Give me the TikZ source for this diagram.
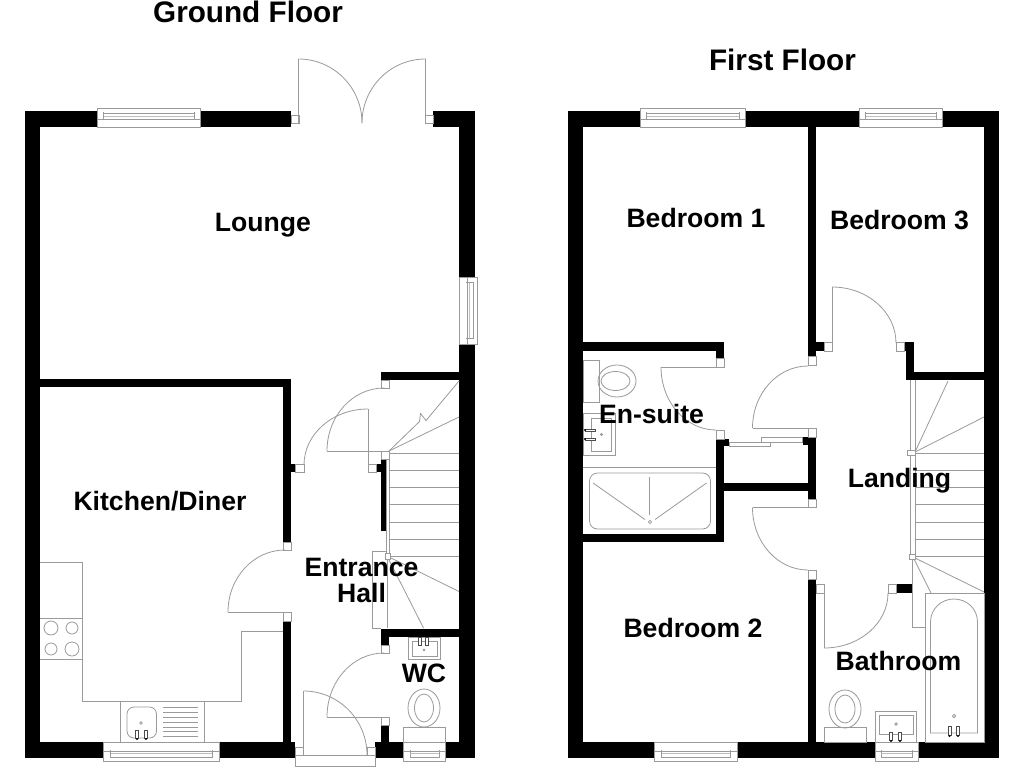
\documentclass[tikz,border=0pt]{standalone}
\usepackage{fontspec}
\setmainfont{Liberation Sans}
\usetikzlibrary{calc}
\definecolor{linegrey}{HTML}{9A9A9A}
\definecolor{lightgrey}{HTML}{BEBEBE}
\tikzset{
  fine/.style={draw=linegrey,line width=0.8pt},
  faint/.style={draw=lightgrey,line width=0.8pt},
  jamb/.style={draw=linegrey,line width=0.8pt,fill=white},
  wallfill/.style={fill=black},
  roomlabel/.style={font=\fontsize{26.6}{28}\selectfont\bfseries,text=black,inner sep=0pt,align=center},
  titlelabel/.style={font=\fontsize{29.7}{32}\selectfont\bfseries,text=black,inner sep=0pt}
}
% wall rectangle / jamb / quarter curve (start, tangent corner, end)
\newcommand{\wl}[4]{\fill[wallfill] (#1,#2) rectangle (#3,#4);}
\newcommand{\jb}[4]{\draw[jamb] (#1,#2) rectangle (#3,#4);}
\newcommand{\fr}[4]{\draw[fine] (#1,#2) rectangle (#3,#4);}
\newcommand{\qa}[3]{\draw[fine] (#1) .. controls ($(#1)!.5523!(#2)$) and ($(#3)!.5523!(#2)$) .. (#3);}
\newcommand{\winB}[2]{%
  \draw[jamb] (#1,742) rectangle (#2,761);
  \draw[fine] (#1,751) -- (#2,751);
  \draw[faint] ({#1+7},753.5) -- ({#2-7},753.5);
  \draw[fine] ({#1+7},757) -- ({#2-7},757);
  \draw[fine] ({#1+7},750) -- ({#1+7},758) ({#2-7},750) -- ({#2-7},758);
}
\newcommand{\winT}[2]{%
  \draw[jamb] (#1,108) rectangle (#2,127);
  \draw[fine] (#1,119) -- (#2,119);
  \draw[faint] ({#1+6},116.5) -- ({#2-6},116.5);
  \draw[fine] ({#1+6},113) -- ({#2-6},113);
  \draw[fine] ({#1+6},112) -- ({#1+6},120) ({#2-6},112) -- ({#2-6},120);
}
\newcommand{\tap}[3]{\draw[line width=0.5pt,draw=black!70,fill=white] (#1-1.3,#2) rectangle (#1+1.3,#3);}
\begin{document}
\begin{tikzpicture}[x=1pt,y=-1pt]
\useasboundingbox (0,0) rectangle (1024,768);
\fill[white] (0,0) rectangle (1024,768);

% ===== GROUND FLOOR walls =====
\wl{25}{111}{40}{758}
\wl{25}{111}{291}{127}
\wl{433}{111}{475}{127}
\wl{459}{111}{475}{758}
\wl{25}{742}{295}{758}
\wl{375}{742}{475}{758}
% kitchen walls
\wl{40}{379}{291}{387}
\wl{283}{379}{291}{542}
\wl{283}{464}{295}{472}
\wl{283}{621}{291}{742}
% stair-head wall
\wl{381}{372}{459}{380}
\wl{381}{372}{389}{380}
\wl{376}{464}{386}{472}
\wl{381}{460}{386}{531}
% WC walls
\wl{381}{629}{459}{637}
\wl{381}{629}{389}{645}
\wl{381}{725}{389}{742}
% jambs
\jb{291}{115}{299}{123}
\jb{425}{115}{433}{123}
\jb{295}{464}{304}{472}
\jb{283}{542}{291}{550}
\jb{283}{612}{291}{621}
\jb{381}{380}{389}{388}
\jb{368}{464}{376}{472}
\jb{381}{645}{389}{653}
\jb{381}{717}{389}{725}
\jb{295}{747}{303}{755}
\jb{367}{747}{375}{755}

% French doors
\draw[fine] (298.5,123) -- (298.5,59);
\qa{298.5,59}{362,59}{362,123}
\draw[fine] (425.5,123) -- (425.5,59);
\qa{425.5,59}{362,59}{362,123}
% lounge side window
\draw[jamb] (459,277) rectangle (477,344);
\draw[fine] (467,277) -- (467,344);
\draw[faint] (469.5,282) -- (469.5,338);
\draw[fine] (473,282) -- (473,338);
\draw[fine] (466,282) -- (474,282) (466,338) -- (474,338);
% top & kitchen windows
\winT{97}{200}
\winB{103}{219}

% Kitchen door
\draw[fine] (228,612) -- (283,612);
\qa{228,612}{228,550}{285,550}
% Kitchen units
\draw[fine] (40,562) -- (82,562) -- (82,701) -- (241,701) -- (241,631) -- (283,631);
\draw[fine] (40,618) -- (82,618);
\draw[fine] (40,659) -- (82,659);
\draw[fine] (51,628) circle (7);
\draw[fine] (72,628) circle (6);
\draw[fine] (51,649) circle (6);
\draw[fine] (72,649) circle (7);
\fr{120.5}{701}{204}{742}
\draw[fine,rounded corners=7pt] (127,707) rectangle (156.5,738);
\draw[fine] (141,723) circle (1.4);
\tap{137}{730}{738}
\tap{146}{730}{738}
\fill (137,739) circle (1.2) (146,739) circle (1.2);
\foreach \yy in {707,712,717,722,727,731,736} \draw[fine] (163,\yy) -- (198,\yy);

% Hall doors
\qa{384,388}{327,388}{327,451}
\draw[fine] (327,451) -- (385,451);
\qa{304,465}{304,409}{368,409}
\draw[fine] (368,409) -- (368,464);

% Stairs
\foreach \yy in {453,470,487,504,522,539,556} \draw[fine] (390,\yy) -- (459,\yy);
\draw[fine] (386,459) -- (386,553);
\draw[fine] (389.5,459) -- (389.5,553);
\draw[fine] (389,451) -- (419.5,421.5) -- (420.5,413.5) -- (426,420.5) -- (459,381);
\draw[fine] (389,451) -- (459,417);
\draw[fine] (387,556) -- (459,591.5);
\draw[fine] (387,556) -- (423.5,628);
\draw[fine] (386,551) -- (372,551) -- (372,628) -- (381,628);
\draw[fine] (387.5,559) -- (387.5,628);
\jb{381.5}{451}{389.5}{459.5}
\jb{385}{553}{390}{559}

% WC
\qa{384,653}{327,653}{327,717}
\draw[fine] (327,717) -- (381,717);
\fr{408}{637}{440}{659}
\fr{412}{641}{437}{656.5}
\tap{420}{637}{645}
\tap{427}{637}{645}
\draw[fine] (424,650) circle (0.9);
\draw[fine] (424,708) ellipse (16 and 19);
\draw[fine] (424,708) ellipse (9.5 and 14);
\draw[jamb] (403.5,727) rectangle (445.5,742);
\draw[jamb] (403.5,742) rectangle (445.5,761.5);
\draw[fine] (403.5,751) -- (445.5,751) (410,757) -- (439,757) (410,750) -- (410,758) (439,750) -- (439,758);
\draw[faint] (410,753.5) -- (439,753.5);
% Front door
\draw[jamb] (295,755) rectangle (375,766);
\draw[fine] (303.5,755) -- (303.5,691);
\qa{303.5,691}{367,691}{367,755}

% ===== FIRST FLOOR walls =====
\wl{568}{111}{583}{758}
\wl{568}{111}{999}{127}
\wl{984}{111}{999}{758}
\wl{568}{742}{999}{758}
\wl{808}{127}{815.5}{356}
\wl{808}{342}{824}{351}
\wl{904}{342}{914}{351}
\wl{906}{342}{914}{380}
\wl{906}{371.5}{984}{380}
% en-suite walls
\wl{583}{342}{724}{351}
\wl{716}{342}{724}{358}
\wl{716}{439}{729}{446}
\wl{716}{439}{724}{541}
\wl{583}{533.5}{724}{541.5}
\wl{716}{482.5}{808}{490.5}
\wl{802.5}{437}{816}{445}
\wl{808}{437}{816}{499}
\wl{808}{579}{815.5}{742}
\wl{896}{584}{912.5}{593}
% jambs
\jb{824}{342}{832}{351}
\jb{896}{342}{904}{351}
\jb{808}{356.5}{816}{365}
\jb{808}{428}{816}{437}
\jb{808}{499}{816}{507.5}
\jb{808}{570}{816}{579}
\jb{716}{358}{724}{367}
\jb{716}{430.5}{724}{439}
\jb{816}{584}{824}{593}
\jb{888}{584}{896}{593}

% windows
\winT{640}{745}
\winT{859}{942}
\winB{654}{737}

% Bedroom 3 door
\draw[fine] (832,343) -- (832,287);
\qa{832,287}{896,287}{896,343}
% Bedroom 1 door
\qa{808,366}{752.5,366}{752.5,428}
\draw[fine] (752.5,428) -- (808,428);
% Bedroom 2 door
\draw[fine] (752.5,507.5) -- (808,507.5);
\qa{752.5,507.5}{752.5,570}{808,570}
% En-suite door
\draw[fine] (661,367) -- (716,367);
\qa{661,367}{661,430}{716,430}
% Bathroom door
\draw[fine] (824,593) -- (824,648);
\qa{824,648}{888,648}{888,593}
% Sliding cupboard doors
\draw[jamb] (729,442) rectangle (770,446);
\draw[jamb] (761.5,437.5) rectangle (802.5,442);

% En-suite WC and basin
\fr{583}{360}{599}{402}
\draw[fine] (617,381) ellipse (19 and 16);
\draw[fine] (615.5,381) ellipse (14.5 and 9.5);
\fr{583}{413}{615}{455.5}
\fr{591}{418}{611}{451}
\draw[fine] (601.5,434.5) circle (1);
\draw[line width=0.5pt,draw=black!70,fill=white] (585,429) rectangle (595,431.5);
\draw[line width=0.5pt,draw=black!70,fill=white] (585,438) rectangle (595,440.5);
\fill (585,430) circle (1.1) (585,439) circle (1.1);
% Shower
\draw[fine] (583,467) -- (716,467);
\draw[fine,rounded corners=8pt] (589.5,473) rectangle (710.5,529);
\draw[fine] (593,483) -- (645,519.5);
\draw[fine] (649.5,477) -- (649.5,515);
\draw[fine] (706.5,483) -- (655,519.5);
\draw[fine] (650,522) circle (1.6);

% Landing stairs
\foreach \yy in {453,470,487,504,522,539,556} \draw[fine] (915,\yy) -- (984,\yy);
\draw[fine] (910,380) -- (910,554);
\draw[fine] (915,380) -- (915,554);
\draw[fine] (915,452) -- (948,381);
\draw[fine] (915,452) -- (984,417);
\draw[fine] (913,557) -- (984,592);
\draw[fine] (913,557) -- (931,593);
\draw[fine] (912.5,558) -- (912.5,627) -- (925,627);
\jb{907}{450}{915.5}{455.5}
\jb{909.5}{554}{915}{559}

% Bathroom
\fr{925}{593}{984}{742}
\draw[fine] (930.5,733) -- (930.5,622) .. controls (930.5,609) and (941,599) .. (954,599) .. controls (967,599) and (977.5,609) .. (977.5,622) -- (977.5,733) -- cycle;
\draw[fine] (954,716) circle (1.7);
\tap{949.5}{726}{735}
\tap{958}{726}{735}
\fill (949.5,736) circle (1.2) (958,736) circle (1.2);
\fr{824}{727.5}{866}{742}
\draw[fine] (845,709) ellipse (16 and 19);
\draw[fine] (845,709) ellipse (10 and 14);
\fr{875.5}{711.5}{916.5}{742}
\fr{879}{715.5}{913}{734.5}
\draw[fine] (896,724) circle (1.2);
\tap{891}{732}{740}
\tap{900}{732}{740}
\fill (891,741) circle (1.2) (900,741) circle (1.2);
\draw[jamb] (875,742) rectangle (918,761.5);
\draw[fine] (875,751) -- (918,751) (881,757) -- (912,757) (881,750) -- (881,758) (912,750) -- (912,758);
\draw[faint] (881,753.5) -- (912,753.5);

% ===== Labels =====
\node[titlelabel] (gftitle) at (248,12) {Ground Floor};
\node[titlelabel] (fftitle) at (782.5,60) {First Floor};
\node[roomlabel] (lounge) at (263,225.5) {Lounge};
\node[roomlabel] (kitchen) at (160,501) {Kitchen/Diner};
\node[roomlabel] (hall) at (361.5,580.5) {Entrance\\[-2pt]Hall};
\node[roomlabel] (wc) at (424,673) {WC};
\node[roomlabel] (bed1) at (696,218) {Bedroom 1};
\node[roomlabel] (bed3) at (899.5,220) {Bedroom 3};
\node[roomlabel] (ensuite) at (651.5,413.5) {En-suite};
\node[roomlabel] (landing) at (899.5,481) {Landing};
\node[roomlabel] (bed2) at (693,628) {Bedroom 2};
\node[roomlabel] (bath) at (898.5,661) {Bathroom};
\end{tikzpicture}
\end{document}
